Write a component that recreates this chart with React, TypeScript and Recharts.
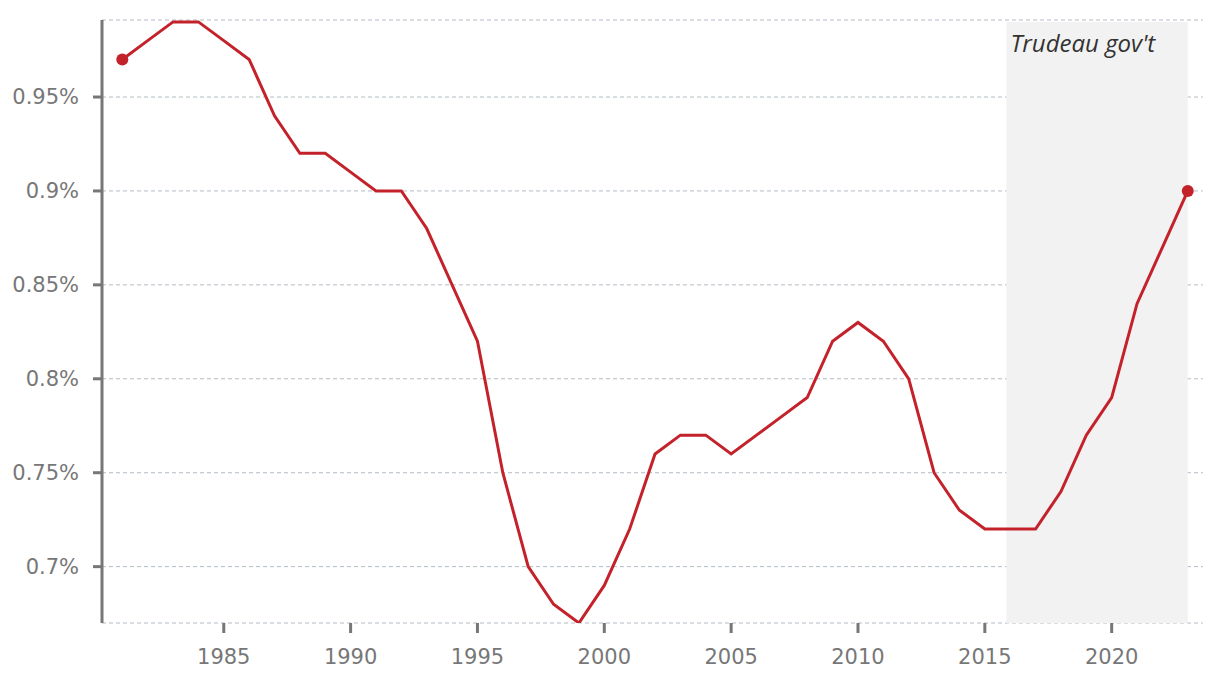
import {
  LineChart,
  Line,
  XAxis,
  YAxis,
  CartesianGrid,
  ReferenceArea,
} from 'recharts'

const YEARS = [
  1981, 1982, 1983, 1984, 1985, 1986, 1987, 1988, 1989, 1990, 1991, 1992, 1993, 1994,
  1995, 1996, 1997, 1998, 1999, 2000, 2001, 2002, 2003, 2004, 2005, 2006, 2007, 2008,
  2009, 2010, 2011, 2012, 2013, 2014, 2015, 2016, 2017, 2018, 2019, 2020, 2021, 2022, 2023,
]
const SHARE = [
  0.97, 0.98, 0.99, 0.99, 0.98, 0.97, 0.94, 0.92, 0.92, 0.91, 0.9, 0.9, 0.88, 0.85,
  0.82, 0.75, 0.7, 0.68, 0.67, 0.69, 0.72, 0.76, 0.77, 0.77, 0.76, 0.77, 0.78, 0.79,
  0.82, 0.83, 0.82, 0.8, 0.75, 0.73, 0.72, 0.72, 0.72, 0.74, 0.77, 0.79, 0.84, 0.87, 0.9,
]
const X_TICKS = [1985, 1990, 1995, 2000, 2005, 2010, 2015, 2020]
const Y_TICKS = [0.7, 0.75, 0.8, 0.85, 0.9, 0.95]
const SHADE_START = 2015.85
const SHADE_END = 2023
const SHADE_LABEL = "Trudeau gov't"

const RED = '#c4222b'
const AXIS = '#777777'
const FONT = '"DejaVu Sans", sans-serif'

const data = YEARS.map((year, i) => ({ year, value: SHARE[i] }))

const EndDot = (props: any) => {
  const { cx, cy, index } = props
  if (index !== 0 && index !== data.length - 1) return null
  return <circle key={index} cx={cx} cy={cy} r={6} fill={RED} />
}

const ShadeLabel = (props: any) => {
  const { x, y } = props.viewBox ?? {}
  return (
    <text
      x={x + 4}
      y={y + 30}
      fill="#333333"
      fontSize={24}
      fontStyle="italic"
      fontFamily='"Open Sans", sans-serif'
    >
      {SHADE_LABEL}
    </text>
  )
}

const App = () => {
  return (
    <div style={{ position: 'absolute', left: 0, top: 0, background: '#fff' }}>
      <LineChart
        width={1220}
        height={682}
        data={data}
        margin={{ top: 20, right: 17, left: 0, bottom: 0 }}
      >
        <ReferenceArea
          x1={SHADE_START}
          x2={SHADE_END}
          y1={0.67}
          y2={0.99}
          fill="#f2f2f2"
          fillOpacity={1}
          stroke="none"
          label={<ShadeLabel />}
        />
        <CartesianGrid
          vertical={false}
          stroke="#b3bcc4"
          strokeDasharray="4 3"
        />
        <XAxis
          dataKey="year"
          type="number"
          domain={[1980.2, 2023.6]}
          allowDataOverflow
          ticks={X_TICKS}
          axisLine={false}
          tickLine={{ stroke: AXIS, strokeWidth: 3 }}
          tickSize={10}
          tickMargin={16}
          height={59}
          tick={{ fill: AXIS, fontSize: 21, fontFamily: FONT }}
        />
        <YAxis
          domain={[0.67, 0.991]}
          allowDataOverflow
          ticks={Y_TICKS}
          width={102}
          axisLine={{ stroke: AXIS, strokeWidth: 3 }}
          tickLine={{ stroke: AXIS, strokeWidth: 3 }}
          tickSize={9}
          tickMargin={14}
          tickFormatter={v => `${v}%`}
          tick={{ fill: AXIS, fontSize: 21, fontFamily: FONT }}
        />
        <Line
          type="linear"
          dataKey="value"
          stroke={RED}
          strokeWidth={3}
          dot={<EndDot />}
          activeDot={false}
          isAnimationActive={false}
        />
      </LineChart>
    </div>
  )
}

export default App
